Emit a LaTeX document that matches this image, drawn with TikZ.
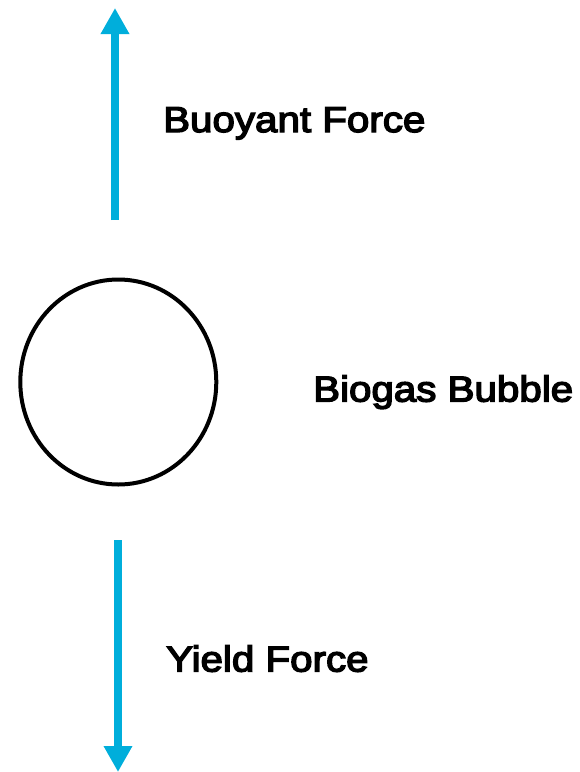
\documentclass[tikz,border=0pt]{standalone}
\usepackage{fontspec}
\setmainfont{Liberation Sans}[FakeStretch=1.12,FakeBold=4]
\usetikzlibrary{arrows.meta,shapes.geometric}
\definecolor{forceblue}{RGB}{0,174,219}
\tikzset{
  force/.style={draw=forceblue, line width=8pt, -{Triangle[width=27pt,length=26pt]}, color=forceblue},
  lbl/.style={anchor=base west, inner sep=0pt, font=\fontsize{36pt}{42pt}\selectfont},
  bubble/.style={ellipse, draw=black, line width=4pt, minimum width=196pt, minimum height=205pt, inner sep=0pt}
}
\begin{document}
\begin{tikzpicture}[x=1pt,y=-1pt]
\useasboundingbox (0,0) rectangle (580,772);
\coordinate (upS) at (115,220);
\coordinate (upT) at (115,8);
\coordinate (dnS) at (118,540);
\coordinate (dnT) at (118,772);
\draw[force] (upS) -- (upT);
\draw[force] (dnS) -- (dnT);
\node[bubble] (bub) at (118.3,382) {};
\node[lbl] (buoy) at (163,132) {Buoyant Force};
\node[lbl] (bio) at (313,401.5) {Biogas Bubble};
\node[lbl] (yield) at (166,671.5) {Yield Force};
\end{tikzpicture}
\end{document}
